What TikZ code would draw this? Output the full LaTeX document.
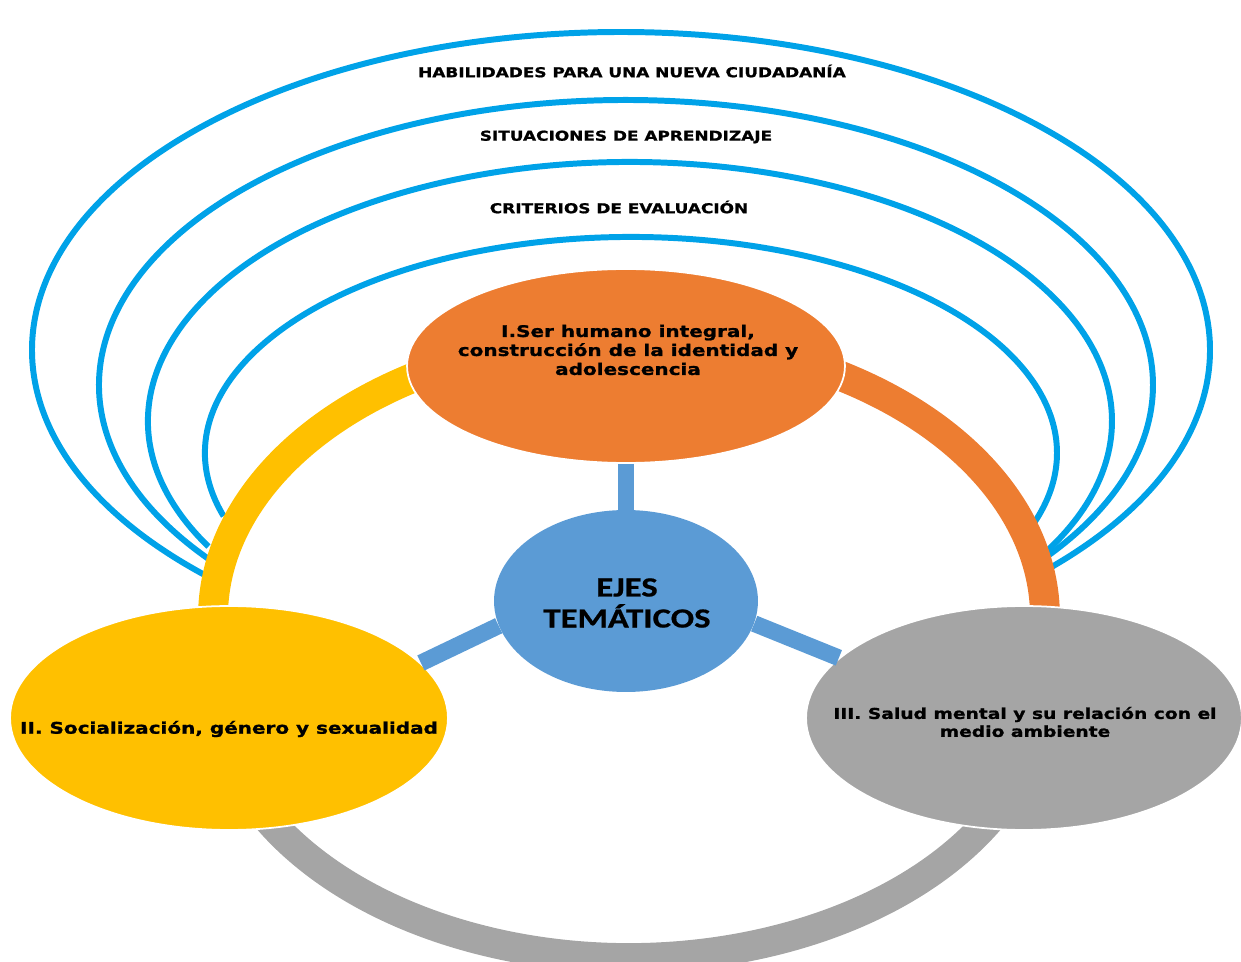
\documentclass[tikz,border=0pt]{standalone}
\usepackage{fontspec}
\usetikzlibrary{shapes.geometric}
\newfontfamily\ejesfont{DejaVu Sans}[FakeStretch=1.25, BoldFeatures={FakeBold=1.2}]
\newfontfamily\titlefont{Carlito}[FakeStretch=1.25, BoldFeatures={FakeBold=0.6}]
\definecolor{orangeT}{RGB}{237,125,49}
\definecolor{yellowT}{RGB}{255,192,0}
\definecolor{grayT}{RGB}{165,165,165}
\definecolor{blueT}{RGB}{91,155,213}
\definecolor{cyanT}{RGB}{0,162,232}
\begin{document}
\begin{tikzpicture}[
        x=0.02cm, y=-0.02cm,
        tema/.style={ellipse, draw=white, line width=1pt, minimum width=8.76cm, minimum height=4.48cm},
        txt/.style={align=center, inner sep=0pt, text=black},
        ring/.style={draw=cyanT, line width=3.4pt},
        band/.style={line width=17pt},
        bar/.style={draw=blueT, line width=9.5pt}
    ]
        \useasboundingbox (0,0) rectangle (1241,962);

        \draw[ring] (621,350) ++(134:589 and 318) arc[start angle=134, end angle=404, x radius=589, y radius=318];
        \draw[ring] (626,385) ++(142:527 and 285) arc[start angle=142, end angle=398, x radius=527, y radius=285];
        \draw[ring] (630,421) ++(151:482 and 259) arc[start angle=151, end angle=390, x radius=482, y radius=259];
        \draw[ring] (631,453) ++(163:426 and 216) arc[start angle=163, end angle=379, x radius=426, y radius=216];

        \node[txt, font=\ejesfont\bfseries\fontsize{7.7}{9}\selectfont] (habilidades) at (632,71) {HABILIDADES PARA UNA NUEVA CIUDADANÍA};
        \node[txt, font=\ejesfont\bfseries\fontsize{7.7}{9}\selectfont] (situaciones) at (626,137) {SITUACIONES DE APRENDIZAJE};
        \node[txt, font=\ejesfont\bfseries\fontsize{7.7}{9}\selectfont] (criterios) at (619,207) {CRITERIOS DE EVALUACIÓN};

        \draw[band, draw=yellowT] (629,617) ++(180:416 and 280) arc[start angle=180, end angle=245, x radius=416, y radius=280];
        \draw[band, draw=orangeT] (629,617) ++(295:416 and 280) arc[start angle=295, end angle=360, x radius=416, y radius=280];
        \draw[band, draw=grayT] (629,682) ++(25:416 and 276) arc[start angle=25, end angle=155, x radius=416, y radius=276];

        \node[tema, fill=orangeT, minimum height=3.88cm] (ser) at (626,366) {};
        \node[ellipse, fill=blueT, minimum width=5.28cm, minimum height=3.64cm] (ejes) at (626,601) {};
        \node[tema, fill=yellowT] (socializacion) at (229,718) {};
        \node[tema, fill=grayT, minimum width=8.72cm] (salud) at (1024,718) {};

        \draw[bar] (ser.south) -- (ejes.north);
        \draw[bar] (ejes.191) -- (socializacion.16);
        \draw[bar] (ejes.350) -- (salud.162);

        \node[txt, font=\ejesfont\bfseries\fontsize{9.1}{10.8}\selectfont] (sertxt) at (628,350) {I.Ser humano integral,\\construcción de la identidad y\\adolescencia};
        \node[txt, font=\titlefont\bfseries\fontsize{15.8}{17.7}\selectfont] (ejestxt) at (627,603) {EJES\\TEMÁTICOS};
        \node[txt, font=\ejesfont\bfseries\fontsize{9.1}{10.8}\selectfont] (socializaciontxt) at (229,729) {II. Socialización, género y sexualidad};
        \node[txt, font=\ejesfont\bfseries\fontsize{8.5}{10.2}\selectfont] (saludtxt) at (1025,722) {III. Salud mental y su relación con el\\medio ambiente};
    \end{tikzpicture}
\end{document}
